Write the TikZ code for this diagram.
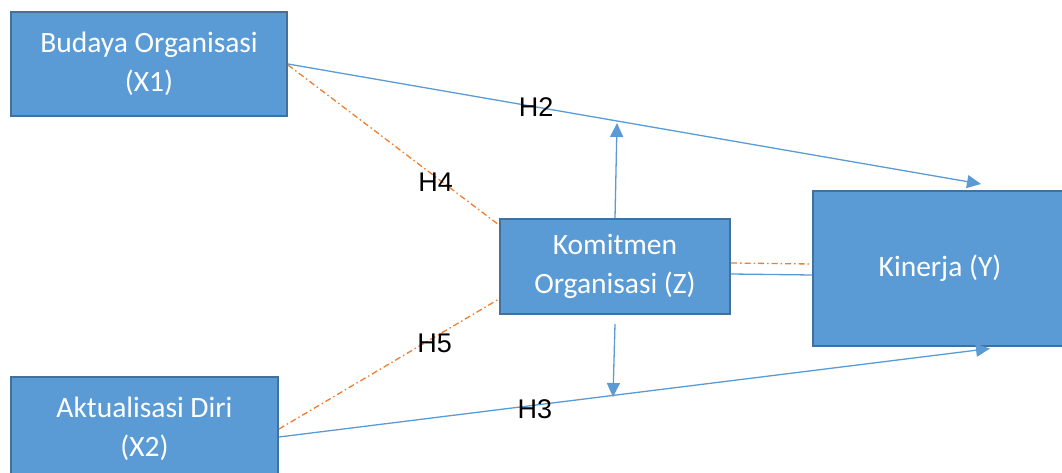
\documentclass[tikz,border=0pt]{standalone}
\usepackage{fontspec}
\setmainfont{Carlito}
\newfontfamily\hfont{Liberation Sans}
\usetikzlibrary{arrows.meta}
\definecolor{boxblue}{HTML}{5B9BD5}
\definecolor{boxedge}{HTML}{41719C}
\definecolor{linkorange}{HTML}{ED7D31}
\tikzset{
    var/.style={draw=boxedge, line width=2pt, fill=boxblue, text=white,
        align=center, inner sep=0pt, font=\fontsize{29.5}{39}\selectfont},
    link/.style={boxblue, line width=1.3pt},
    moder/.style={linkorange, line width=1.3pt,
        dash pattern=on 6pt off 3pt on 1.5pt off 3pt},
    tip/.style={-{Triangle[length=14pt,width=13pt]}},
    hlabel/.style={text=black, inner sep=0pt, font=\hfont\fontsize{27}{30}\selectfont}
}

\begin{document}
\begin{tikzpicture}[x=1pt, y=-1pt]
            \useasboundingbox (0, 0) rectangle (1062, 473);
            \clip (0, 0) rectangle (1062, 473);

            \node[var, minimum width=276, minimum height=104] (budaya) at (149, 64) {Budaya Organisasi\\(X1)};
            \node[var, minimum width=267, minimum height=104] (aktual) at (144.5, 429) {Aktualisasi Diri\\(X2)};
            \node[var, minimum width=230, minimum height=95] (komit) at (615, 266.5) {Komitmen\\Organisasi (Z)};
            \node[var, minimum width=254, minimum height=155] (kinerja) at (940, 268.5) {Kinerja (Y)};

            \coordinate (h2end) at (981, 184);
            \coordinate (h3end) at (990, 348.5);
            \coordinate (zup) at (617, 123);
            \coordinate (zdown) at (613, 397);

            % direct paths
            \draw[link] (budaya.east) edge[tip] node[hlabel, pos=0.358] (h2) {H2} (h2end)
                ([yshift=-8pt]aktual.east) edge[tip] node[hlabel, pos=0.36, yshift=-4pt] (h3) {H3} (h3end);

            % mediated paths
            \draw[link] (komit.north) edge[tip] (zup)
                ([yshift=-9pt]komit.south) edge[tip] (zdown)
                ([yshift=-7.5pt]komit.east) edge ([yshift=-6.5pt]kinerja.west);
            \draw[moder] ([yshift=3.5pt]komit.east) -- ([yshift=4.5pt]kinerja.west);

            % H4, H5
            \draw[moder] ([yshift=-1pt]budaya.east) edge node[hlabel, pos=0.70, yshift=-5pt] (h4) {H4} ([yshift=-7pt]komit.north west)
                (aktual.east) edge node[hlabel, pos=0.707, yshift=-6pt] (h5) {H5} ([yshift=16pt]komit.south west);
        \end{tikzpicture}
\end{document}
